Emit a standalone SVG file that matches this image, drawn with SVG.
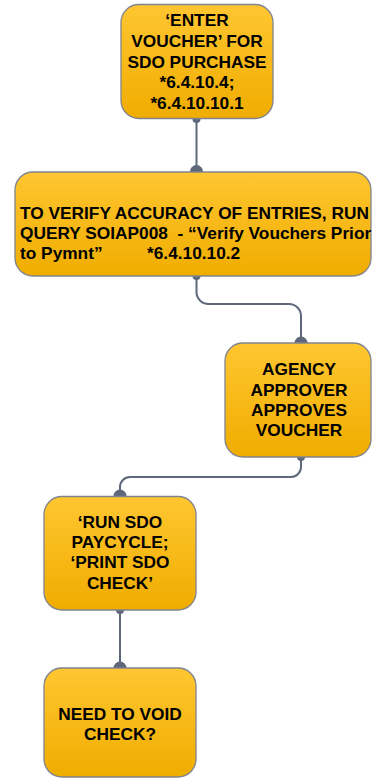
<svg xmlns="http://www.w3.org/2000/svg" width="372" height="780" viewBox="0 0 372 780">
<defs>
<linearGradient id="g" x1="0" y1="0" x2="0" y2="1">
<stop offset="0" stop-color="#FFC631"/>
<stop offset="1" stop-color="#F0AD00"/>
</linearGradient>
<style>
.box{fill:url(#g);stroke:#80848f;stroke-width:1.3}
.t{font-family:"Liberation Sans",Arial,sans-serif;font-weight:bold;font-size:17.3px;fill:#000}
.c{text-anchor:middle}
.ln{fill:none;stroke:#5f677b;stroke-width:2}
.d{fill:#5f677b}
</style>
</defs>
<g id="connectors">
<path class="ln" d="M196.5 119 V171"/>
<path class="ln" d="M196.5 276 V292 A12 12 0 0 0 208.5 304 H289 A12 12 0 0 1 301 316 V343"/>
<path class="ln" d="M301 457 V467 A10 10 0 0 1 291 477 H130 A10 10 0 0 0 120 487 V496"/>
<path class="ln" d="M120 610 V668"/>
<circle class="d" cx="196.5" cy="119" r="4"/>
<circle class="d" cx="196.5" cy="171.5" r="6.5"/>
<circle class="d" cx="196.5" cy="276" r="4"/>
<circle class="d" cx="301" cy="343" r="6.5"/>
<circle class="d" cx="301" cy="457" r="4"/>
<circle class="d" cx="120" cy="496" r="6.5"/>
<circle class="d" cx="120" cy="610" r="4"/>
<circle class="d" cx="120" cy="668" r="6.5"/>
</g>
<g id="n1">
<rect class="box" x="121" y="4.5" width="152" height="114" rx="18"/>
<text class="t c" x="197"><tspan x="197" y="26">‘ENTER</tspan><tspan x="197" y="47">VOUCHER’ FOR</tspan><tspan x="197" y="67.5">SDO PURCHASE</tspan><tspan x="197" y="88">*6.4.10.4;</tspan><tspan x="197" y="108.5">*6.4.10.10.1</tspan></text>
</g>
<g id="n2">
<rect class="box" x="15" y="172" width="356" height="104" rx="18"/>
<text class="t"><tspan x="20" y="219">TO VERIFY ACCURACY OF ENTRIES, RUN</tspan><tspan x="20" y="239" xml:space="preserve">QUERY SOIAP008  - “Verify Vouchers Prior</tspan><tspan x="20" y="259">to Pymnt”</tspan><tspan x="147" y="259">*6.4.10.10.2</tspan></text>
</g>
<g id="n3">
<rect class="box" x="225" y="343" width="146" height="114" rx="18"/>
<text class="t c"><tspan x="299" y="375">AGENCY</tspan><tspan x="299" y="396">APPROVER</tspan><tspan x="299" y="416">APPROVES</tspan><tspan x="299" y="436">VOUCHER</tspan></text>
</g>
<g id="n4">
<rect class="box" x="44" y="496.5" width="152" height="113.5" rx="18"/>
<text class="t c"><tspan x="120" y="528">‘RUN SDO</tspan><tspan x="120" y="548">PAYCYCLE;</tspan><tspan x="120" y="568">‘PRINT SDO</tspan><tspan x="120" y="589">CHECK’</tspan></text>
</g>
<g id="n5">
<rect class="box" x="44" y="668" width="152" height="109" rx="18"/>
<text class="t c"><tspan x="120" y="720">NEED TO VOID</tspan><tspan x="120" y="740">CHECK?</tspan></text>
</g>
</svg>
